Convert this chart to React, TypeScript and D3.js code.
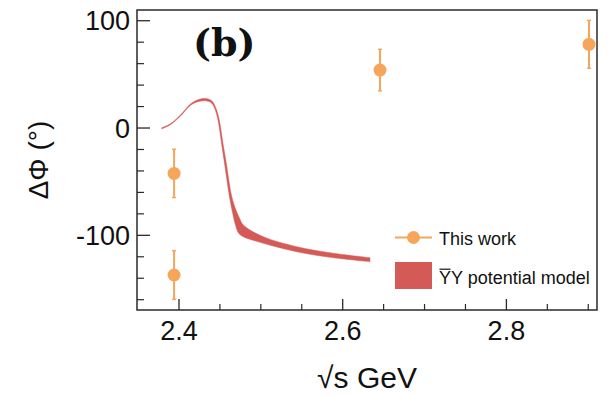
import React from "react";
import * as d3 from "d3";

// Data: "This work" points
const pointS = [2.394, 2.394, 2.6456, 2.9009];
const pointPhi = [-42.3, -137.0, 54.0, 78.0];
const pointErr = [22.5, 22.7, 19.4, 22.3];

// Model band: upper and lower edges (sqrt(s), deltaPhi)
const upperS = [2.3789, 2.389, 2.4012, 2.4134, 2.4208, 2.4277, 2.4342, 2.4403, 2.4455, 2.4495, 2.4534, 2.4578, 2.4645, 2.4696, 2.4733, 2.4786, 2.503, 2.5438, 2.5845, 2.6334];
const upperPhi = [0.2, 3.8, 11.75, 22.0, 25.7, 27.4, 27.4, 25.2, 17.7, 6.4, -12.8, -32.9, -64.0, -76.4, -82.9, -90.4, -101.3, -110.6, -116.2, -120.9];
const lowerS = [2.3789, 2.389, 2.4012, 2.4134, 2.4208, 2.4277, 2.4342, 2.44, 2.4448, 2.4483, 2.4517, 2.4556, 2.4617, 2.4656, 2.469, 2.4727, 2.4786, 2.503, 2.5438, 2.5845, 2.6334];
const lowerPhi = [-0.8, 2.8, 10.65, 20.8, 24.1, 25.2, 25.2, 23.2, 15.9, 4.8, -12.8, -32.9, -64.0, -79.5, -90.4, -97.8, -101.3, -107.4, -115.3, -120.5, -124.6];

const xMajor = [2.4, 2.6, 2.8];
const xMinor = [2.45, 2.5, 2.55, 2.65, 2.7, 2.75, 2.85, 2.9];
const yMajor = [100, 0, -100];
const yMinor = [80, 60, 40, 20, -20, -40, -60, -80, -120, -140, -160];

const legendLabels = ["This work", "YY potential model"];

const W = 613, H = 396;
const L = 137, T = 10, R = 597, B = 310;
const ORANGE = "#f6a65a";
const RED = "#d35a56";
const AXIS = "#2a2a2a";
const SANS = "'Liberation Sans', Arial, Helvetica, sans-serif";

export default function App() {
  const x = d3.scaleLinear().domain([2.3487, 2.9107]).range([L, R]);
  const y = d3.scaleLinear().domain([-169.6, 110]).range([B, T]);

  const upper = upperS.map((s, i) => [x(s), y(upperPhi[i])] as [number, number]);
  const lower = lowerS.map((s, i) => [x(s), y(lowerPhi[i])] as [number, number]).reverse();
  const line = d3.line().curve(d3.curveCatmullRom.alpha(0.5));
  const up = line(upper) as string;
  const lo = (line(lower) as string).replace(/^M/, "L");
  const bandPath = up + lo + "Z";

  const legX0 = 395, legX1 = 432, legTextX = 439;
  const leg1Y = 237.5, leg2Top = 262, leg2H = 27, leg2Base = 284;

  return (
    <svg width={W} height={H} style={{ position: "absolute", left: 0, top: 0, background: "#fff" }}>
      <rect x={0} y={0} width={W} height={H} fill="#fff" />
      {/* model band */}
      <path d={bandPath} fill={RED} stroke={RED} strokeWidth={0.5} strokeLinejoin="round" />

      {/* data points */}
      {pointS.map((s, i) => (
        <g key={i}>
          <line x1={x(s)} x2={x(s)} y1={y(pointPhi[i] + pointErr[i])} y2={y(pointPhi[i] - pointErr[i])} stroke={ORANGE} strokeWidth={2} />
          <line x1={x(s) - 2} x2={x(s) + 2} y1={y(pointPhi[i] + pointErr[i])} y2={y(pointPhi[i] + pointErr[i])} stroke={ORANGE} strokeWidth={1.5} />
          <line x1={x(s) - 2} x2={x(s) + 2} y1={y(pointPhi[i] - pointErr[i])} y2={y(pointPhi[i] - pointErr[i])} stroke={ORANGE} strokeWidth={1.5} />
          <circle cx={x(s)} cy={y(pointPhi[i])} r={6.5} fill={ORANGE} />
        </g>
      ))}

      {/* frame */}
      <rect x={L} y={T} width={R - L} height={B - T} fill="none" stroke={AXIS} strokeWidth={1.5} />

      {/* y ticks */}
      {yMajor.map((v) => (
        <g key={"ym" + v}>
          <line x1={L} x2={L + 13} y1={y(v)} y2={y(v)} stroke={AXIS} strokeWidth={1.3} />
          <text x={L - 7} y={y(v)} dy="0.36em" textAnchor="end" fontFamily={SANS} fontSize={27} fill="#111">{v}</text>
        </g>
      ))}
      {yMinor.map((v) => (
        <line key={"yn" + v} x1={L} x2={L + 7} y1={y(v)} y2={y(v)} stroke={AXIS} strokeWidth={1.2} />
      ))}

      {/* x ticks */}
      {xMajor.map((v) => (
        <g key={"xm" + v}>
          <line x1={x(v)} x2={x(v)} y1={B} y2={B - 11} stroke={AXIS} strokeWidth={1.3} />
          <text x={x(v)} y={340} textAnchor="middle" fontFamily={SANS} fontSize={27} fill="#111">{v.toFixed(1)}</text>
        </g>
      ))}
      {xMinor.map((v) => (
        <line key={"xn" + v} x1={x(v)} x2={x(v)} y1={B} y2={B - 6} stroke={AXIS} strokeWidth={1.2} />
      ))}

      {/* axis titles */}
      <text x={367} y={388} textAnchor="middle" fontFamily={SANS} fontSize={30} fill="#111">√s GeV</text>
      <text transform="translate(48,160) rotate(-90)" textAnchor="middle" fontFamily={SANS} fontSize={28} fill="#111">ΔΦ (°)</text>

      {/* panel label */}
      <text x={193} y={56} fontFamily="'DejaVu Serif', 'Liberation Serif', serif" fontWeight="bold" fontSize={38} fill="#111">(b)</text>

      {/* legend */}
      <line x1={legX0} x2={legX1} y1={leg1Y} y2={leg1Y} stroke={ORANGE} strokeWidth={2} />
      <circle cx={(legX0 + legX1) / 2} cy={leg1Y} r={6.5} fill={ORANGE} />
      <text x={legTextX} y={leg1Y + 7} fontFamily={SANS} fontSize={18} fill="#111">{legendLabels[0]}</text>
      <rect x={legX0} y={leg2Top} width={legX1 - legX0} height={leg2H} fill={RED} />
      <text x={legTextX} y={leg2Base} fontFamily={SANS} fontSize={18} fill="#111">{legendLabels[1]}</text>
      <line x1={legTextX + 0.5} x2={legTextX + 11.5} y1={leg2Base - 14.8} y2={leg2Base - 14.8} stroke="#111" strokeWidth={1.2} />
    </svg>
  );
}
